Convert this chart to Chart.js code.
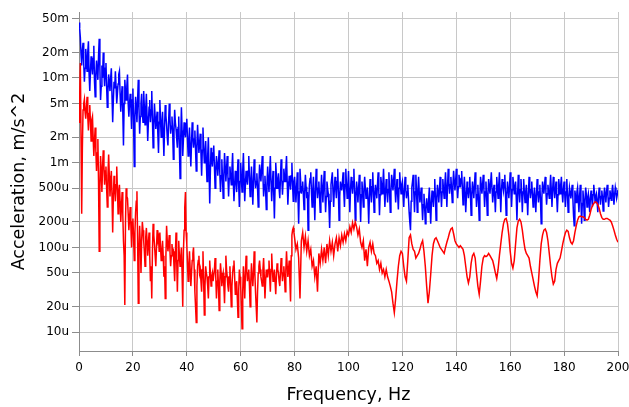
<!DOCTYPE html>
<html>
<head>
<meta charset="utf-8">
<title>Acceleration spectrum</title>
<script src="https://cdn.jsdelivr.net/npm/chart.js@4.4.1/dist/chart.umd.min.js"></script>
<style>
  html, body { margin: 0; padding: 0; background: #fff; }
  #spectrum-chart { display: block; }
</style>
</head>
<body>
<canvas id="spectrum-chart" width="629" height="407"></canvas>
<script>
// sampling of the traces, Hz
const BLUE_STEP = 0.25;
const RED_LOW_STEP = 0.25;   // red trace 0 .. 79.75 Hz
const RED_HIGH_START = 80;
const RED_HIGH_STEP = 0.5;   // red trace 80 .. 200 Hz

// blue trace, in u (1e-6 m/s^2), one row per 5 Hz
const blueSpectrum = [
  45000, 38000, 30000, 19000, 14000, 21000, 26000, 15000, 9000, 13000, 22000, 17000, 12000, 20000, 27000, 11000, 7000, 12000, 18000, 14000,
  11000, 17000, 24000, 9000, 6000, 11000, 16000, 12000, 9500, 18000, 29000, 13000, 5500, 8000, 14000, 10000, 20000, 12000, 8000, 13000,
  15000, 8000, 4500, 7000, 11000, 9000, 7000, 10000, 13000, 6000, 3000, 5500, 9000, 7500, 12000, 8000, 5000, 6500, 8500, 11000,
  12000, 6500, 4000, 6000, 8000, 4000, 1600, 5000, 9500, 7000, 5500, 8000, 11000, 5000, 3500, 5000, 6500, 4500, 2500, 5500,
  7500, 3000, 900, 3500, 6000, 4500, 3000, 5500, 9500, 4500, 2200, 3500, 5000, 6500, 4000, 3000, 7000, 4500, 2800, 4200,
  6500, 3500, 1800, 3000, 4500, 5500, 3000, 4200, 7000, 3200, 1500, 2800, 5000, 3500, 2500, 3200, 4000, 2200, 1300, 3000,
  5500, 3200, 2000, 2900, 4000, 2200, 1200, 2600, 4800, 3600, 2800, 2000, 1600, 3000, 5000, 3300, 2200, 2700, 3500, 2400,
  1100, 2300, 4200, 3000, 2500, 1900, 1500, 2600, 3500, 1500, 650, 2000, 4500, 2400, 1200, 1900, 3000, 2400, 2000, 2900,
  3300, 1900, 1200, 1800, 2600, 1500, 900, 1700, 3000, 2000, 1500, 1900, 2400, 1400, 800, 1600, 2800, 1800, 1300, 1700,
  2200, 1300, 700, 1400, 2600, 1500, 1000, 1300, 1800, 1000, 600, 1200, 2000, 900, 330, 800, 1500, 1100, 900, 1300,
  1600, 900, 500, 800, 1200, 950, 700, 1000, 1400, 750, 450, 700, 1100, 650, 380, 700, 1300, 900, 600, 850,
  1200, 700, 400, 650, 900, 700, 550, 850, 1300, 600, 350, 550, 800, 600, 450, 700, 1100, 550, 300, 600,
  1000, 650, 450, 800, 1300, 650, 350, 550, 800, 650, 550, 800, 1200, 650, 400, 600, 900, 550, 320, 600,
  1100, 700, 500, 600, 750, 500, 300, 550, 950, 750, 600, 850, 1200, 700, 400, 550, 700, 450, 280, 550,
  900, 600, 450, 750, 1200, 600, 350, 550, 800, 450, 220, 500, 1000, 700, 500, 600, 750, 500, 380, 650,
  1100, 650, 420, 600, 850, 700, 600, 850, 1200, 600, 320, 500, 700, 600, 480, 700, 1000, 550, 350, 600,
  680, 480, 340, 520, 770, 400, 190, 450, 850, 600, 430, 520, 600, 420, 280, 450, 720, 520, 380, 450,
  160, 350, 550, 650, 770, 450, 300, 480, 680, 400, 210, 450, 850, 550, 380, 500, 600, 400, 260, 450,
  720, 480, 340, 550, 800, 450, 260, 400, 600, 500, 430, 300, 170, 350, 550, 650, 770, 450, 300, 500,
  680, 500, 380, 600, 850, 450, 210, 400, 600, 520, 470, 600, 770, 450, 300, 550, 850, 550, 380, 500,
  800, 450, 260, 480, 680, 550, 430, 600, 850, 450, 210, 400, 600, 480, 340, 500, 720, 400, 200, 420,
  600, 420, 300, 480, 680, 500, 380, 450, 510, 350, 190, 380, 640, 480, 340, 520, 770, 450, 260, 420,
  550, 450, 380, 550, 770, 450, 240, 420, 680, 550, 430, 550, 850, 500, 300, 450, 640, 480, 340, 480,
  770, 450, 260, 450, 720, 600, 470, 620, 850, 500, 340, 480, 640, 420, 280, 500, 770, 550, 430, 550,
  600, 420, 300, 480, 680, 500, 380, 450, 550, 380, 260, 200, 160, 350, 510, 600, 720, 420, 260, 450,
  720, 450, 260, 450, 680, 450, 340, 420, 510, 320, 210, 320, 430, 300, 190, 280, 380, 320, 260, 380,
  510, 320, 190, 330, 470, 380, 300, 450, 640, 380, 210, 380, 550, 450, 340, 480, 680, 450, 300, 450,
  640, 480, 380, 550, 770, 500, 300, 520, 850, 600, 430, 550, 680, 480, 340, 550, 800, 600, 470, 600,
  850, 550, 380, 520, 720, 600, 510, 650, 800, 500, 320, 480, 680, 450, 260, 400, 600, 480, 380, 500,
  680, 420, 240, 420, 600, 480, 380, 550, 770, 480, 300, 420, 550, 350, 210, 400, 680, 550, 430, 550,
  720, 480, 300, 450, 600, 400, 240, 420, 640, 520, 430, 580, 770, 500, 340, 450, 550, 400, 260, 450,
  680, 500, 380, 550, 770, 480, 260, 450, 640, 550, 470, 580, 720, 420, 240, 420, 600, 480, 380, 520,
  770, 500, 300, 480, 680, 550, 430, 520, 600, 380, 210, 420, 720, 480, 340, 480, 640, 450, 260, 450,
  640, 450, 340, 450, 550, 380, 240, 420, 680, 500, 380, 480, 600, 420, 300, 400, 510, 380, 260, 420,
  640, 450, 340, 450, 550, 350, 190, 380, 600, 500, 430, 550, 680, 450, 320, 430, 550, 450, 380, 500,
  720, 480, 300, 480, 680, 500, 380, 480, 600, 400, 260, 420, 640, 520, 430, 550, 680, 450, 340, 480,
  600, 420, 300, 450, 640, 420, 260, 380, 510, 450, 380, 450, 550, 380, 240, 180, 470, 400, 340, 450,
  510, 380, 260, 400, 550, 350, 190, 330, 470, 350, 210, 360, 510, 420, 300, 380, 430, 350, 260, 380,
  470, 380, 300, 420, 550, 450, 340, 400, 430, 350, 260, 380, 510, 420, 320, 400, 470, 380, 270, 400,
  510, 420, 340, 450, 550, 420, 300, 380, 470, 420, 360, 450, 550, 430, 320, 420, 510, 450, 380, 420, 480
];

// red trace 0 .. 79.75 Hz, in u, one row per 5 Hz
const redLowBand = [
  3000, 6000, 15000, 2000, 250, 1500, 4200, 5000, 5600, 4000, 3300, 4500, 6000, 3500, 2400, 3800, 4800, 3000, 1800, 3200,
  3500, 2000, 1200, 1800, 2600, 1400, 800, 1300, 1900, 600, 90, 500, 1200, 800, 450, 900, 1400, 900, 550, 800,
  900, 500, 300, 700, 1250, 700, 400, 600, 800, 400, 150, 400, 700, 500, 350, 550, 900, 500, 250, 450,
  550, 350, 200, 300, 450, 250, 120, 80, 21, 200, 500, 400, 380, 250, 160, 220, 300, 180, 100, 200,
  220, 130, 70, 150, 260, 350, 460, 120, 22, 90, 180, 110, 50, 120, 200, 160, 120, 90, 60, 130,
  170, 120, 80, 110, 150, 80, 40, 60, 25, 90, 190, 140, 110, 80, 60, 100, 160, 120, 130, 90,
  150, 100, 70, 90, 120, 80, 45, 60, 25, 80, 180, 120, 90, 110, 140, 90, 60, 80, 110, 85,
  90, 60, 40, 80, 150, 70, 30, 70, 120, 80, 60, 75, 100, 50, 20, 90, 160, 300, 450, 150,
  110, 65, 40, 60, 90, 55, 35, 50, 70, 85, 100, 55, 30, 20, 13, 35, 60, 70, 80, 50,
  55, 40, 30, 55, 90, 40, 16, 35, 60, 50, 45, 35, 25, 45, 70, 50, 35, 45, 50, 40,
  40, 55, 75, 45, 25, 40, 55, 35, 18, 40, 65, 50, 35, 45, 50, 35, 22, 45, 80, 55,
  45, 35, 30, 45, 60, 35, 20, 35, 50, 60, 70, 45, 28, 35, 40, 25, 15, 30, 55, 45,
  35, 20, 11, 30, 60, 40, 25, 50, 80, 55, 40, 50, 55, 35, 20, 40, 65, 45, 35, 50,
  90, 50, 30, 20, 13, 30, 50, 60, 70, 55, 45, 40, 35, 55, 75, 45, 25, 40, 55, 45,
  45, 55, 70, 45, 30, 55, 85, 55, 40, 45, 55, 40, 28, 45, 65, 55, 50, 40, 35, 50,
  75, 55, 40, 50, 60, 45, 30, 55, 90, 60, 45, 55, 70, 40, 23, 80, 140, 160, 170, 150
];

// red trace 80 .. 200 Hz, in u, one row per 5 Hz
const redHighBand = [
  130, 95, 110, 75, 25, 120, 150, 100, 135, 90,
  120, 80, 95, 60, 70, 45, 60, 30, 85, 65,
  95, 70, 100, 65, 110, 80, 120, 90, 115, 80,
  110, 130, 90, 130, 105, 140, 115, 145, 120, 155,
  140, 175, 150, 195, 165, 200, 175, 140, 165, 115,
  100, 120, 70, 95, 60, 100, 115, 90, 110, 85,
  80, 65, 70, 55, 65, 50, 55, 45, 55, 45,
  40, 35, 30, 22, 17, 25, 40, 60, 80, 90,
  85, 60, 45, 40, 70, 130, 140, 110, 95, 90,
  75, 80, 85, 95, 110, 120, 90, 60, 35, 22,
  30, 48, 80, 110, 125, 130, 120, 110, 100, 95,
  90, 85, 100, 115, 130, 150, 165, 170, 145, 120,
  110, 105, 100, 105, 100, 95, 80, 60, 45, 38,
  45, 65, 80, 85, 75, 50, 35, 28, 40, 60,
  75, 80, 78, 80, 85, 80, 75, 70, 60, 50,
  43, 55, 80, 110, 150, 190, 215, 220, 190, 140,
  90, 65, 57, 70, 110, 170, 205, 215, 200, 160,
  120, 95, 85, 80, 75, 60, 50, 42, 35, 30,
  27, 40, 70, 110, 140, 160, 165, 150, 120, 85,
  60, 45, 37, 40, 55, 65, 70, 75, 90, 110,
  130, 150, 160, 155, 130, 115, 110, 120, 150, 180,
  210, 230, 235, 230, 230, 225, 215, 210, 215, 240,
  280, 310, 330, 345, 340, 320, 290, 250, 225, 215,
  215, 220, 220, 215, 210, 200, 180, 160, 140, 125, 115
];

const xTickValues = [0, 20, 40, 60, 80, 100, 120, 140, 160, 180, 200];
const yTickValues = [1e-5, 2e-5, 5e-5, 1e-4, 2e-4, 5e-4, 1e-3, 2e-3, 5e-3, 1e-2, 2e-2, 5e-2];
const yTickLabels = ['10u', '20u', '50u', '100u', '200u', '500u', '1m', '2m', '5m', '10m', '20m', '50m'];

// micro units -> m/s^2, placed on the frequency grid
function toPoints(values, start, step) {
  return values.map((v, i) => ({ x: start + i * step, y: v * 1e-6 }));
}

function renderSpectrumChart() {
  const ctx = document.getElementById('spectrum-chart');
  if (typeof Chart === 'undefined') {
    console.error('Chart.js not loaded');
    return;
  }

  Chart.defaults.font.family = '"DejaVu Sans", Verdana, sans-serif';
  Chart.defaults.font.size = 12;
  Chart.defaults.color = '#000';

  const gridColor = '#c8c8c8';
  const axisColor = '#8c8c8c';

  const redPoints = toPoints(redLowBand, 0, RED_LOW_STEP)
    .concat(toPoints(redHighBand, RED_HIGH_START, RED_HIGH_STEP));

  new Chart(ctx, {
    type: 'line',
    data: {
      datasets: [
        {
          data: redPoints,
          borderColor: '#ff0000',
          borderWidth: 1.5,
          pointRadius: 0,
          tension: 0
        },
        {
          data: toPoints(blueSpectrum, 0, BLUE_STEP),
          borderColor: '#0000ff',
          borderWidth: 1.5,
          pointRadius: 0,
          tension: 0
        }
      ]
    },
    options: {
      responsive: false,
      animation: false,
      devicePixelRatio: 1,
      layout: { padding: { top: 12, right: 11, left: 0, bottom: 0 } },
      plugins: {
        legend: { display: false },
        tooltip: { enabled: false }
      },
      scales: {
        x: {
          type: 'linear',
          min: 0,
          max: 200,
          afterBuildTicks: (scale) => {
            scale.ticks = xTickValues.map(value => ({ value }));
          },
          afterFit: (scale) => {
            scale.height = 56;
            // the last label may hang past the plot edge
            scale.paddingLeft = 0;
            scale.paddingRight = 0;
          },
          grid: { color: gridColor, tickColor: axisColor, tickLength: 5 },
          border: { color: axisColor },
          ticks: { padding: 5, maxRotation: 0, autoSkip: false },
          title: {
            display: true,
            text: 'Frequency, Hz',
            font: { size: 17.5 },
            padding: { top: 0, bottom: 1 }
          }
        },
        y: {
          type: 'logarithmic',
          min: 6e-6,
          max: 6e-2,
          afterBuildTicks: (scale) => {
            scale.ticks = yTickValues.map(value => ({ value }));
          },
          afterFit: (scale) => { scale.width = 79; },
          grid: { color: gridColor, tickColor: axisColor, tickLength: 7 },
          border: { color: axisColor },
          ticks: {
            padding: 3,
            autoSkip: false,
            callback: (value, index) => yTickLabels[index]
          },
          title: {
            display: true,
            text: 'Acceleration, m/s^2',
            font: { size: 17.5 },
            padding: { top: 9, bottom: 0 }
          }
        }
      }
    }
  });
}

renderSpectrumChart();
</script>
</body>
</html>
